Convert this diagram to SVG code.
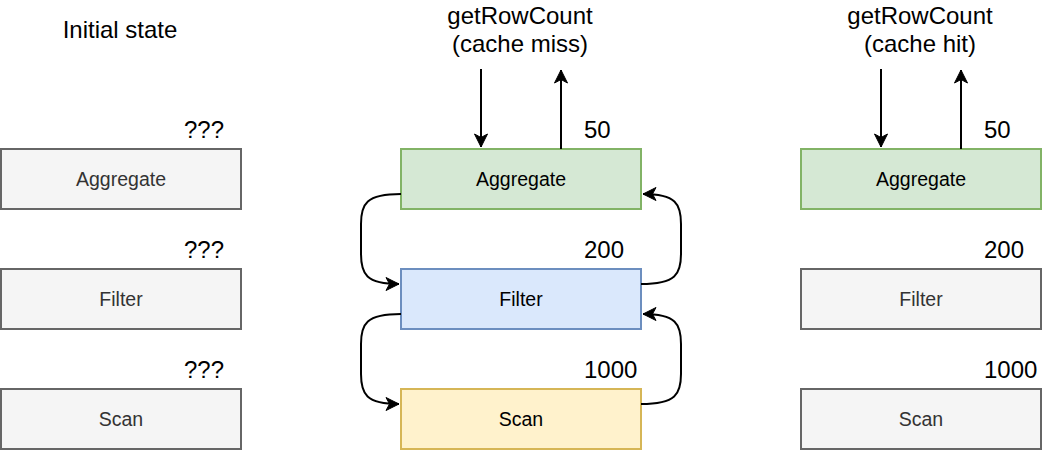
<svg xmlns="http://www.w3.org/2000/svg" width="1064" height="450" viewBox="0 0 1064 450">
<defs>
<marker id="arr" markerWidth="18" markerHeight="18" refX="14" refY="9" orient="auto" markerUnits="userSpaceOnUse">
<path d="M1,2.5 L14,9 L1,15.5 L4.5,9 Z" fill="#000" stroke="#000" stroke-width="1"/>
</marker>
<style>
.box{stroke-width:2}
.grey{fill:#f5f5f5;stroke:#666}
.green{fill:#d5e8d4;stroke:#82b366}
.blue{fill:#dae8fc;stroke:#6c8ebf}
.yellow{fill:#fff2cc;stroke:#d6b656}
.nt{font-family:"Liberation Sans",Arial,sans-serif;font-size:19.5px;text-anchor:middle}
.gt{fill:#333}
.bt{fill:#000}
.lbl{font-family:"Liberation Sans",Arial,sans-serif;font-size:24px;fill:#000}
.edge{fill:none;stroke:#000;stroke-width:2}
</style>
</defs>
<rect width="1064" height="450" fill="#fff"/>
<g id="titles">
<text class="lbl" x="120" y="38" text-anchor="middle">Initial state</text>
<text class="lbl" x="520" y="24" text-anchor="middle">getRowCount</text>
<text class="lbl" x="520" y="52" text-anchor="middle">(cache miss)</text>
<text class="lbl" x="920" y="24" text-anchor="middle">getRowCount</text>
<text class="lbl" x="920" y="52" text-anchor="middle">(cache hit)</text>
</g>
<g id="labels">
<text class="lbl" x="224" y="138" text-anchor="end">???</text>
<text class="lbl" x="224" y="258" text-anchor="end">???</text>
<text class="lbl" x="224" y="378" text-anchor="end">???</text>
<text class="lbl" x="584" y="138">50</text>
<text class="lbl" x="584" y="258">200</text>
<text class="lbl" x="584" y="378">1000</text>
<text class="lbl" x="984" y="138">50</text>
<text class="lbl" x="984" y="258">200</text>
<text class="lbl" x="984" y="378">1000</text>
</g>
<g id="init-aggregate"><rect class="box grey" x="1" y="149" width="240" height="60"/><text class="nt gt" x="121" y="186">Aggregate</text></g>
<g id="init-filter"><rect class="box grey" x="1" y="269" width="240" height="60"/><text class="nt gt" x="121" y="306">Filter</text></g>
<g id="init-scan"><rect class="box grey" x="1" y="389" width="240" height="60"/><text class="nt gt" x="121" y="426">Scan</text></g>
<g id="miss-aggregate"><rect class="box green" x="401" y="149" width="240" height="60"/><text class="nt bt" x="521" y="186">Aggregate</text></g>
<g id="miss-filter"><rect class="box blue" x="401" y="269" width="240" height="60"/><text class="nt bt" x="521" y="306">Filter</text></g>
<g id="miss-scan"><rect class="box yellow" x="401" y="389" width="240" height="60"/><text class="nt bt" x="521" y="426">Scan</text></g>
<g id="hit-aggregate"><rect class="box green" x="801" y="149" width="240" height="60"/><text class="nt bt" x="921" y="186">Aggregate</text></g>
<g id="hit-filter"><rect class="box grey" x="801" y="269" width="240" height="60"/><text class="nt gt" x="921" y="306">Filter</text></g>
<g id="hit-scan"><rect class="box grey" x="801" y="389" width="240" height="60"/><text class="nt gt" x="921" y="426">Scan</text></g>
<g id="connectors">
<path class="edge" d="M481,69 L481,147" marker-end="url(#arr)"/>
<path class="edge" d="M561,149 L561,70" marker-end="url(#arr)"/>
<path class="edge" d="M881,69 L881,147" marker-end="url(#arr)"/>
<path class="edge" d="M961,149 L961,70" marker-end="url(#arr)"/>
<path class="edge" d="M401,194 C366,194 361,204 361,224 L361,254 C361,274 366,284 399,284" marker-end="url(#arr)"/>
<path class="edge" d="M641,284 C676,284 681,274 681,254 L681,224 C681,204 676,194 643,194" marker-end="url(#arr)"/>
<path class="edge" d="M401,314 C366,314 361,324 361,344 L361,374 C361,394 366,404 399,404" marker-end="url(#arr)"/>
<path class="edge" d="M641,404 C676,404 681,394 681,374 L681,344 C681,324 676,314 643,314" marker-end="url(#arr)"/>
</g>
</svg>
